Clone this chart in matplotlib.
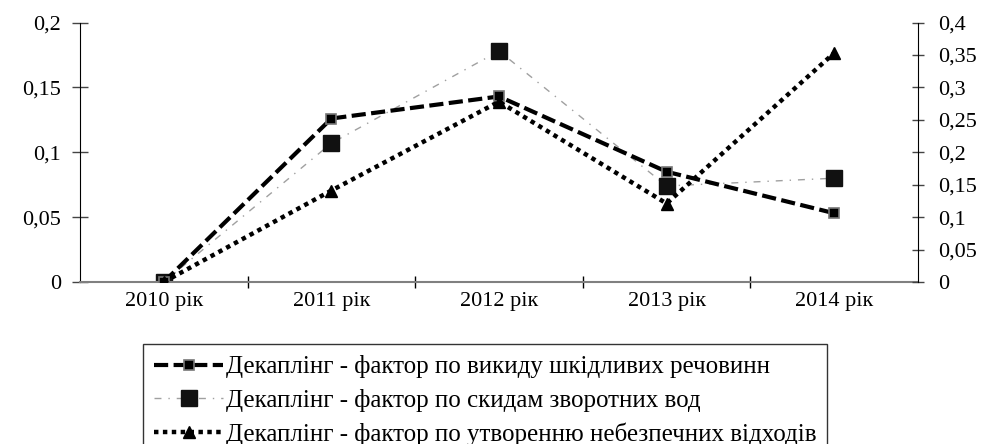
import numpy as np
import matplotlib.pyplot as plt

plt.rcParams['font.family'] = ['Liberation Serif', 'DejaVu Serif']

years = ["2010 рік", "2011 рік", "2012 рік", "2013 рік", "2014 рік"]
emissions = [0.0, 0.126, 0.143, 0.085, 0.053]        # left axis
wastewater = [0.0, 0.107, 0.178, 0.074, 0.080]       # left axis
hazardous = [0.0, 0.141, 0.278, 0.121, 0.353]        # right axis

left_ticks = [0, 0.05, 0.1, 0.15, 0.2]
left_labels = ["0", "0,05", "0,1", "0,15", "0,2"]
right_ticks = [0, 0.05, 0.1, 0.15, 0.2, 0.25, 0.3, 0.35, 0.4]
right_labels = ["0", "0,05", "0,1", "0,15", "0,2", "0,25", "0,3", "0,35", "0,4"]

names = ["Декаплінг - фактор по викиду шкідливих речовинн",
         "Декаплінг - фактор по скидам зворотних вод",
         "Декаплінг - фактор по утворенню небезпечних відходів"]

fig = plt.figure(figsize=(9.86, 4.44), dpi=100)
ax = fig.add_axes([80/986, 1-282/444, (918-80)/986, (282-22.5)/444])
ax2 = ax.twinx()

x = np.arange(len(years))

l1, = ax.plot(x, emissions, color='black', lw=3, dashes=(3.4, 1.3),
              marker='s', ms=6.5, mfc='black', mec='#777777', mew=1.2, zorder=3)
l2, = ax.plot(x, wastewater, color='#a0a0a0', lw=1, dashes=(5, 5, 1, 5),
              marker='s', ms=11, mfc='#111111', mec='#111111', zorder=2)
l3, = ax2.plot(x, hazardous, color='black', lw=3.2, dashes=(1, 1),
               marker='^', ms=9, mfc='black', mec='black', zorder=3)

ax.set_xlim(-0.5, len(years) - 0.5)
ax.set_ylim(0, 0.2)
ax2.set_ylim(0, 0.4)

ax.set_xticks(x)
ax.set_xticklabels(years)
ax.set_xticks(np.arange(0.5, len(years) - 0.5, 1), minor=True)
ax.tick_params(axis='x', which='major', length=0, pad=7, labelsize=16)
ax.tick_params(axis='x', which='minor', direction='inout', length=8, width=1, color='black')

ax.set_yticks(left_ticks)
ax.set_yticklabels(left_labels)
ax2.set_yticks(right_ticks)
ax2.set_yticklabels(right_labels)
ax.tick_params(axis='y', direction='inout', length=11.5, width=1, labelsize=16, pad=8, color='#444444')
ax2.tick_params(axis='y', direction='inout', length=8.6, width=1, labelsize=16, pad=10, color='#444444')

for a in (ax, ax2):
    a.spines['top'].set_visible(False)
ax.spines['right'].set_visible(False)
ax2.spines['left'].set_visible(False)
ax2.spines['bottom'].set_visible(False)
ax.spines['bottom'].set_color('#808080')
ax.spines['bottom'].set_linewidth(1.5)
ax.spines['left'].set_color('black')
ax2.spines['right'].set_color('black')

leg = fig.legend([l1, l2, l3], names, loc='upper left',
                 bbox_to_anchor=(143/986, 1-344/444), fontsize=18,
                 frameon=True, fancybox=False, edgecolor='black',
                 handlelength=2.75, handletextpad=0.1, labelspacing=0.42,
                 borderpad=0.45, borderaxespad=0)
leg.get_frame().set_linewidth(1)

fig.savefig("out.png", dpi=100)
